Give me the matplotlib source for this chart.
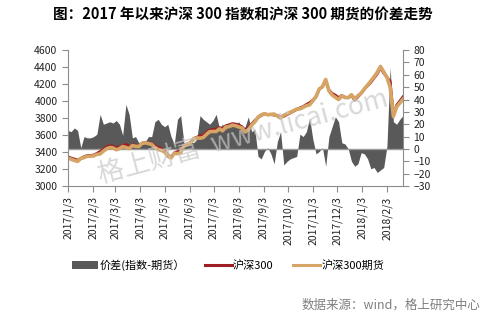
import matplotlib
matplotlib.use("Agg")
import matplotlib.pyplot as plt
from matplotlib.patches import Patch
from matplotlib.lines import Line2D
import numpy as np
import pandas as pd

plt.rcParams["font.family"] = ["Noto Sans CJK SC", "DejaVu Sans"]

# sample dates (every 4 calendar days from 2017-01-03)
dates = pd.date_range("2017-01-03", periods=105, freq="4D")

# CSI 300 index close
index_close = [
    3345, 3330, 3318, 3305, 3325, 3345, 3360, 3360, 3365, 3385,
    3405, 3430, 3460, 3475, 3470, 3450, 3460, 3475, 3490, 3468,
    3485, 3478, 3470, 3505, 3515, 3510, 3500, 3475, 3455, 3440,
    3420, 3370, 3340, 3390, 3405, 3420, 3480, 3495, 3510, 3560,
    3575, 3590, 3595, 3630, 3660, 3665, 3670, 3690, 3670, 3710,
    3720, 3735, 3730, 3718, 3700, 3655, 3690, 3730, 3770, 3805,
    3830, 3850, 3840, 3840, 3835, 3830, 3815, 3820, 3840, 3860,
    3880, 3900, 3920, 3935, 3960, 3980, 4010, 4050, 4140, 4170,
    4240, 4130, 4090, 4070, 4040, 4065, 4045, 4040, 4065, 4010,
    4050, 4090, 4140, 4180, 4220, 4270, 4320, 4390, 4330, 4280,
    4230, 3840, 3950, 4000, 4050,
]

# basis: index minus futures
spread = [
    15, 14, 17, 15, 1, 10, 9, 9, 10, 12,
    28, 20, 21, 22, 21, 23, 20, 11, 36, 28,
    9, 10, 5, 4, 6, 10, 10, 22, 24, 20,
    18, 20, 10, 4, 24, 27, 5, 4, 6, 5,
    8, 27, 24, 22, 20, 23, 28, 17, 20, 16,
    21, 18, 20, 22, 16, 18, 26, 14, 16, -6,
    -8, -2, 1, -4, -12, 6, 14, -13, -10, -8,
    -7, -6, 12, 10, 14, 25, 8, -4, -2, 1,
    -14, 10, 18, 26, 22, 5, 4, 0, -10, -14,
    -12, -3, -4, -8, -16, -15, -19, -17, -15, 2,
    66, 22, 20, 24, 27,
]

futures_close = np.array(index_close) - np.array(spread)

tick_labels = [
    "2017/1/3", "2017/2/3", "2017/3/3", "2017/4/3", "2017/5/3", "2017/6/3",
    "2017/7/3", "2017/8/3", "2017/9/3", "2017/10/3", "2017/11/3",
    "2017/12/3", "2018/1/3", "2018/2/3",
]
tick_dates = pd.to_datetime(tick_labels, format="%Y/%m/%d")

GRAY = "#595959"
RED = "#9E1F23"
TAN = "#D6A465"
AXIS = "#8C8C8C"

fig = plt.figure(figsize=(4.85, 3.23), dpi=100)
ax = fig.add_axes([0.140, 0.424, 0.691, 0.421])
ax2 = ax.twinx()
ax.set_zorder(2)
ax2.set_zorder(1)
ax.patch.set_visible(False)

# basis as shaded area on the right axis
ax2.fill_between(dates, spread, 0, color=GRAY, linewidth=0)
ax2.axhline(0, color="#9a9a9a", lw=1)
ax2.set_ylim(-30, 80)
ax2.set_yticks(np.arange(-30, 81, 10))

ax.plot(dates, index_close, color=RED, lw=2.0)
ax.plot(dates, futures_close, color=TAN, lw=2.6)
ax.set_ylim(3000, 4600)
ax.set_yticks(np.arange(3000, 4601, 200))
ax.set_xlim(pd.Timestamp("2017-01-03"), pd.Timestamp("2018-02-23"))
ax.set_xticks(tick_dates)
ax.set_xticklabels(tick_labels, rotation=90)

for a in (ax, ax2):
    a.spines["top"].set_visible(False)
    for s in ("left", "right", "bottom"):
        a.spines[s].set_color(AXIS)
    a.tick_params(colors=AXIS, labelcolor="#222222", labelsize=7.5, length=4, width=0.8)
ax.spines["right"].set_visible(False)
ax2.spines["left"].set_visible(False)
ax2.spines["bottom"].set_visible(False)

fig.text(0.5, 0.955, "图：2017 年以来沪深 300 指数和沪深 300 期货的价差走势",
         ha="center", va="center", fontsize=10.5, fontweight="bold")

fig.text(0.50, 0.575, "格上财富  www.licai.com", ha="center", va="center",
         rotation=15, fontsize=19, color="#c8c8c8", alpha=0.7, zorder=10)

handles = [
    Patch(facecolor=GRAY, edgecolor="none"),
    Line2D([], [], color=RED, lw=2.2),
    Line2D([], [], color=TAN, lw=2.2),
]
fig.legend(handles, ["价差(指数-期货）", "沪深300", "沪深300期货"],
           loc="center", bbox_to_anchor=(0.47, 0.18), ncol=3, frameon=False,
           fontsize=8, handlelength=2.4, handletextpad=0.1, columnspacing=1.8)

fig.text(0.99, 0.055, "数据来源：wind，格上研究中心", ha="right", va="center",
         fontsize=9, color="#7f7f7f")

plt.savefig("out.png", dpi=100)
plt.close()
